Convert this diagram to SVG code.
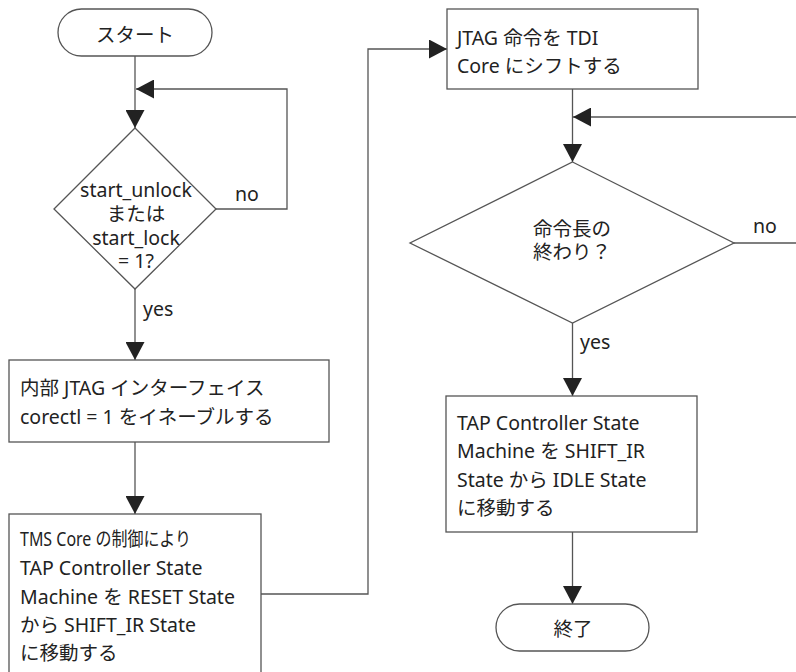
<svg xmlns="http://www.w3.org/2000/svg" width="796" height="672" viewBox="0 0 796 672">
  <defs>
    <style>
      .shape { fill: #ffffff; stroke: #555555; stroke-width: 1.3; }
      .flow { fill: none; stroke: #555555; stroke-width: 1.3; }
      .label { font-family: "Noto Sans", "Noto Sans CJK JP", sans-serif; font-size: 19.5px; fill: #222222; }
      .mid { text-anchor: middle; }
    </style>
    <!-- solid triangular arrowhead, tip at the end of the path -->
    <marker id="arrow" viewBox="0 0 18 19" refX="18" refY="9.5" markerWidth="18" markerHeight="19" markerUnits="userSpaceOnUse" orient="auto">
      <path d="M0,0 L18,9.5 L0,19 Z" fill="#222222"/>
    </marker>
  </defs>

  <rect width="796" height="672" fill="#ffffff"/>

  <!-- connectors -->
  <g id="connectors">
    <path class="flow" d="M135,56 V128" marker-end="url(#arrow)"/>
    <path class="flow" d="M216,209 H287 V89 H136" marker-end="url(#arrow)"/>
    <path class="flow" d="M135,289 V360" marker-end="url(#arrow)"/>
    <path class="flow" d="M135,442 V514" marker-end="url(#arrow)"/>
    <path class="flow" d="M261,594 H368 V49 H447" marker-end="url(#arrow)"/>
    <path class="flow" d="M572.5,89 V162" marker-end="url(#arrow)"/>
    <path class="flow" d="M734,243 H812 V117 H573" marker-end="url(#arrow)"/>
    <path class="flow" d="M572.5,323 V396" marker-end="url(#arrow)"/>
    <path class="flow" d="M572.5,532 V604" marker-end="url(#arrow)"/>
    <text class="label" x="235" y="201">no</text>
    <text class="label" x="143" y="316">yes</text>
    <text class="label" x="753" y="233">no</text>
    <text class="label" x="580" y="349">yes</text>
  </g>

  <!-- start terminal -->
  <g id="start">
    <rect class="shape" x="58" y="9" width="154" height="47" rx="23.5"/>
    <text class="label mid" x="135" y="42">スタート</text>
  </g>

  <!-- unlock/lock request check -->
  <g id="check-start">
    <polygon class="shape" points="135,128 216,209 135,289 54,209"/>
    <text class="label mid" x="136" y="197">start_unlock</text>
    <text class="label mid" x="136" y="221">または</text>
    <text class="label mid" x="136" y="245">start_lock</text>
    <text class="label mid" x="136" y="268">= 1?</text>
  </g>

  <!-- enable internal JTAG -->
  <g id="enable-jtag">
    <rect class="shape" x="9" y="360" width="320" height="82"/>
    <text class="label" x="20" y="395">内部 JTAG インターフェイス</text>
    <text class="label" x="20" y="424">corectl = 1 をイネーブルする</text>
  </g>

  <!-- move TAP to SHIFT_IR -->
  <g id="to-shift-ir">
    <rect class="shape" x="9" y="514" width="252" height="172"/>
    <text class="label" x="20" y="546" textLength="171" lengthAdjust="spacingAndGlyphs">TMS Core の制御により</text>
    <text class="label" x="20" y="575">TAP Controller State</text>
    <text class="label" x="20" y="604">Machine を RESET State</text>
    <text class="label" x="20" y="632">から SHIFT_IR State</text>
    <text class="label" x="20" y="660">に移動する</text>
  </g>

  <!-- shift instruction -->
  <g id="shift-instruction">
    <rect class="shape" x="447" y="9" width="251" height="80"/>
    <text class="label" x="457" y="45">JTAG 命令を TDI</text>
    <text class="label" x="457" y="73">Core にシフトする</text>
  </g>

  <!-- end of instruction check -->
  <g id="check-length">
    <polygon class="shape" points="572.5,162 734,243 572.5,323 410,243"/>
    <text class="label mid" x="572" y="236">命令長の</text>
    <text class="label mid" x="572" y="259">終わり？</text>
  </g>

  <!-- move TAP to IDLE -->
  <g id="to-idle">
    <rect class="shape" x="446" y="396" width="251" height="136"/>
    <text class="label" x="457" y="430">TAP Controller State</text>
    <text class="label" x="457" y="458">Machine を SHIFT_IR</text>
    <text class="label" x="457" y="487">State から IDLE State</text>
    <text class="label" x="457" y="515">に移動する</text>
  </g>

  <!-- end terminal -->
  <g id="end">
    <rect class="shape" x="496" y="604" width="153" height="47" rx="23.5"/>
    <text class="label mid" x="573" y="636">終了</text>
  </g>
</svg>
